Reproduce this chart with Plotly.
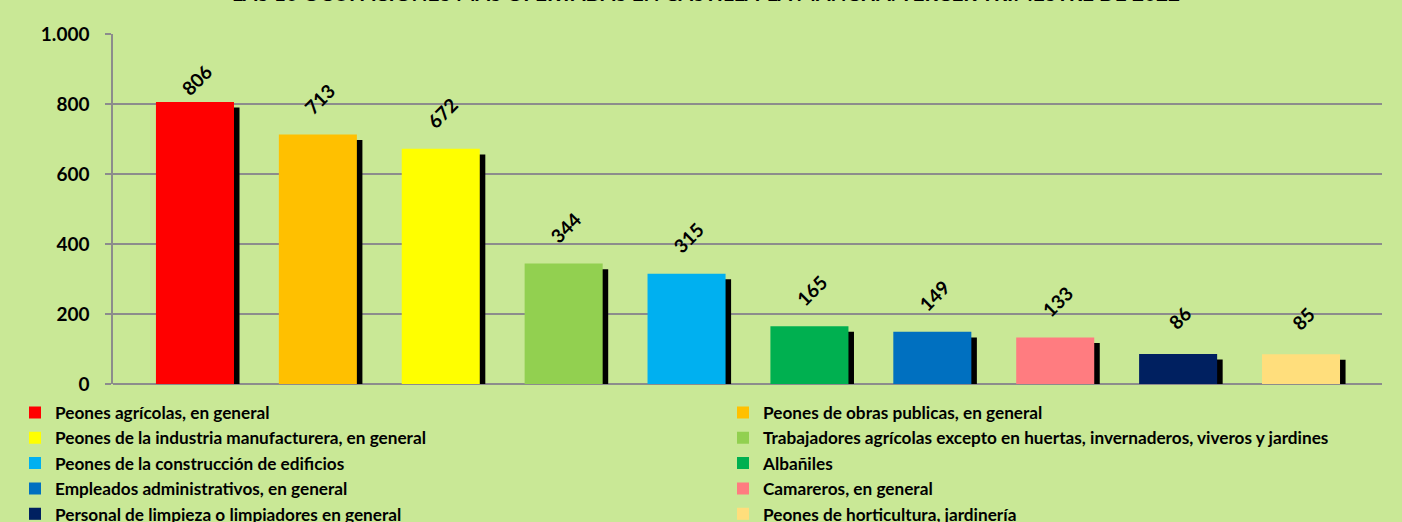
import plotly.graph_objects as go

categories = [
    "Peones agrícolas, en general",
    "Peones de obras publicas, en general",
    "Peones de la industria manufacturera, en general",
    "Trabajadores agrícolas excepto en huertas, invernaderos, viveros y jardines",
    "Peones de la construcción de edificios",
    "Albañiles",
    "Empleados administrativos, en general",
    "Camareros, en general",
    "Personal de limpieza o limpiadores en general",
    "Peones de horticultura, jardinería",
]
values = [806, 713, 672, 344, 315, 165, 149, 133, 86, 85]
colors = ["#FF0000", "#FFC000", "#FFFF00", "#92D050", "#00B0F0",
          "#00B050", "#0070C0", "#FF7C80", "#002060", "#FFDE7C"]
title_text = "LAS 10 OCUPACIONES MÁS OFERTADAS EN CASTILLA-LA MANCHA. TERCER TRIMESTRE DE 2022"

FONT = "Lato"
BG = "#C9E896"
BAR_W = 0.635
SHADOW_DX = 0.045
SHADOW_DY = 16

L, R, T, B = 113, 20, 34.3, 137.7
PW, PH = 1402 - L - R, 522 - T - B
Y_MAX = 1000
PX_PER_UNIT = PH / Y_MAX
LABEL_GAP_PX = 36          # distance from bar top to label centre
LABEL_TOP_PX = 80          # labels never rise above this pixel row


def px_x(p):
    return (p - L) / PW


def px_y(p):
    return (522 - B - p) / PH


fig = go.Figure()
for cat, val in zip(categories, values):
    fig.add_trace(go.Bar(
        x=[cat], y=[val], base=-SHADOW_DY,
        width=BAR_W, offset=-BAR_W / 2 + SHADOW_DX,
        marker=dict(color="black", line=dict(width=0)),
        showlegend=False, hoverinfo="skip",
    ))
for i, (cat, val, col) in enumerate(zip(categories, values, colors)):
    fig.add_trace(go.Bar(
        x=[cat], y=[val], name=cat,
        width=BAR_W, offset=-BAR_W / 2,
        marker=dict(color=col, line=dict(width=0)),
        hoverinfo="x+y",
        legend="legend" if i % 2 == 0 else "legend2",
    ))

label_cap = (522 - B - LABEL_TOP_PX) / PX_PER_UNIT
for cat, val in zip(categories, values):
    fig.add_annotation(
        x=cat, y=min(val + LABEL_GAP_PX / PX_PER_UNIT, label_cap),
        xref="x", yref="y", text=str(val), textangle=-45,
        xanchor="center", yanchor="middle", showarrow=False, xshift=2,
        font=dict(family=FONT, size=19, color="black", weight="bold"),
    )

fig.add_annotation(
    text=title_text, xref="paper", yref="paper",
    x=px_x(706), y=px_y(-7.5),
    xanchor="center", yanchor="middle", showarrow=False,
    font=dict(family=FONT, size=20.8, color="black", weight="bold"),
)

legend_common = dict(
    orientation="v", xanchor="left", yanchor="top",
    font=dict(family=FONT, size=17.2, color="black", weight="bold"),
    bgcolor="rgba(0,0,0,0)", traceorder="normal",
    itemclick=False, itemdoubleclick=False, borderwidth=0,
)

fig.update_layout(
    width=1402, height=522,
    margin=dict(l=L, r=R, t=T, b=B, autoexpand=False),
    paper_bgcolor=BG, plot_bgcolor=BG,
    barmode="overlay",
    separators=",.",
    xaxis=dict(
        type="category", categoryorder="array", categoryarray=categories,
        range=[-0.667, 9.659], showticklabels=False, showgrid=False,
        zeroline=False, showline=False, ticks="",
    ),
    yaxis=dict(
        range=[0, Y_MAX], dtick=200, tickformat=",",
        showgrid=True, gridcolor="#8C8C8C", gridwidth=1.5,
        showline=True, linecolor="#8C8C8C", linewidth=1.5,
        ticks="outside", ticklen=6, tickcolor="#8C8C8C", tickwidth=1.5,
        zeroline=True, zerolinecolor="#8C8C8C", zerolinewidth=1.5,
        tickfont=dict(family=FONT, size=19, color="black", weight="bold"),
        ticklabelstandoff=12,
    ),
    legend=dict(x=px_x(15), y=px_y(395), **legend_common),
    legend2=dict(x=px_x(723), y=px_y(395), **legend_common),
    showlegend=True,
)

fig.write_html(
    "out.html",
    config={"displayModeBar": False},
    post_script="document.body.style.margin='0';document.body.style.background='" + BG + "';",
)
